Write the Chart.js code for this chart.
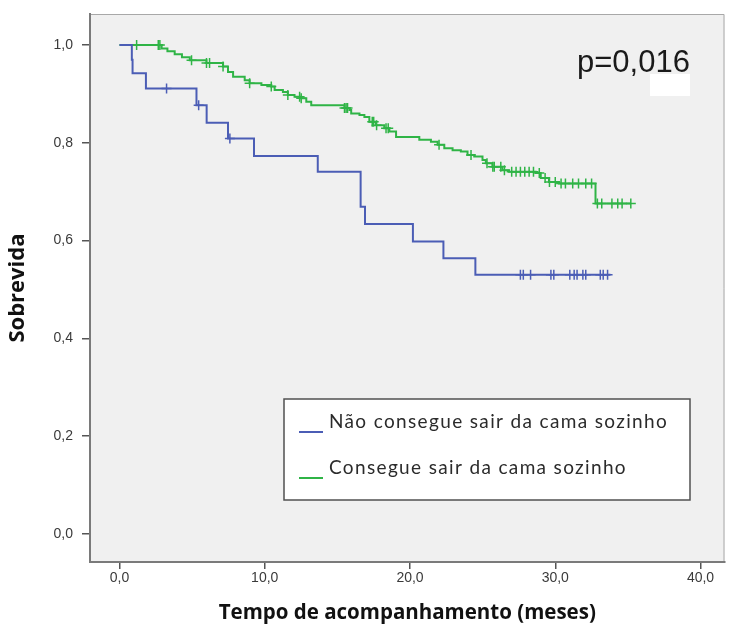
<!DOCTYPE html>
<html><head><meta charset="utf-8">
<script src="https://cdn.jsdelivr.net/npm/chart.js@4/dist/chart.umd.min.js"></script>
<style>html,body{margin:0;padding:0;background:#fff}#wrap{width:731px;height:630px;position:relative}</style>
</head><body><div id="wrap"><canvas id="c"></canvas></div>
<script>
const seriesNames = ['Não consegue sair da cama sozinho', 'Consegue sair da cama sozinho'];
const pValueText = 'p=0,016';
const xTitle = 'Tempo de acompanhamento (meses)';
const yTitle = 'Sobrevida';
const xTicks = [0, 10, 20, 30, 40];
const yTicks = [0, 0.2, 0.4, 0.6, 0.8, 1.0];

// Blue group: step times and survival after each step
const blueTimes = [0, 0.85, 0.9, 1.82, 5.3, 6.0, 7.47, 9.26, 13.65, 16.6, 16.9, 20.2, 22.3, 24.5, 33.8];
const blueSurv  = [1, 0.970, 0.942, 0.911, 0.877, 0.841, 0.809, 0.773, 0.741, 0.669, 0.634, 0.598, 0.564, 0.530, 0.530];
const blueCensorTimes = [3.24, 5.45, 7.6, 27.6, 27.8, 28.3, 29.7, 29.9, 31.0, 31.3, 31.5, 31.9, 32.1, 33.1, 33.3, 33.6];

// Green group
const greenTimes = [0, 2.9, 3.3, 3.8, 4.3, 4.84, 5.99, 7.13, 7.47, 7.82, 8.62, 8.96, 9.77, 10.45, 10.68, 11.25, 11.59, 12.05, 12.51, 12.86, 13.2,
  15.49, 15.83, 15.95, 16.52, 16.86, 17.2, 17.66, 18.23, 18.58, 19.04, 20.64, 21.44, 21.9, 22.36, 22.93, 23.5, 23.96, 24.42,
  24.99, 25.22, 25.67, 26.36, 26.82, 28.65, 29.0, 29.57, 30.25, 32.77, 35.2];
const greenSurv = [1, 0.993, 0.987, 0.981, 0.975, 0.969, 0.963, 0.956, 0.945, 0.935, 0.928, 0.922, 0.918, 0.915, 0.908, 0.904, 0.898, 0.894, 0.891, 0.884, 0.877,
  0.871, 0.867, 0.860, 0.857, 0.853, 0.843, 0.836, 0.830, 0.823, 0.812, 0.806, 0.802, 0.796, 0.789, 0.785, 0.782, 0.775, 0.772,
  0.765, 0.758, 0.751, 0.744, 0.741, 0.738, 0.728, 0.720, 0.717, 0.676, 0.676];
const greenCensorTimes = [1.18, 2.67, 2.78, 4.96, 5.99, 6.2, 7.13, 8.96, 10.45, 11.59, 12.4, 12.51, 15.49, 15.6, 15.7, 17.4, 17.5, 17.7,
  18.35, 18.5, 22.0, 24.2, 25.3, 25.7, 25.8, 26.25, 26.5, 27.0, 27.3, 27.6, 27.9, 28.2, 28.5, 28.9, 29.3, 29.6, 30.0, 30.4, 30.7,
  31.2, 31.6, 32.1, 32.5, 32.9, 33.2, 33.9, 34.3, 34.6, 35.2];

const BLUE = '#4b5db5';
const GREEN = '#2fb446';

function survAt(times, surv, t) {
  let s = surv[0];
  for (let i = 0; i < times.length; i++) { if (times[i] <= t) s = surv[i]; }
  return s;
}
const toPts = (xs, ys) => xs.map((x, i) => ({x, y: ys[i]}));
const censorPts = (ct, times, surv) => ct.map(t => ({x: t, y: survAt(times, surv, t)}));

const fmt = v => v.toFixed(1).replace('.', ',');

const framePlugin = {
  id: 'frame',
  beforeDraw(chart) {
    const {ctx, chartArea: a} = chart;
    ctx.save();
    ctx.fillStyle = '#f0f0f0';
    ctx.fillRect(a.left, a.top, a.right - a.left, a.bottom - a.top);
    ctx.strokeStyle = '#a8a8a8';
    ctx.lineWidth = 1;
    ctx.beginPath();
    ctx.moveTo(a.left, a.top + 0.5); ctx.lineTo(a.right - 0.5, a.top + 0.5); ctx.lineTo(a.right - 0.5, a.bottom);
    ctx.stroke();
    ctx.restore();
  },
  afterDraw(chart) {
    const {ctx} = chart;
    ctx.save();
    // p-value
    ctx.fillStyle = '#1a1a1a';
    ctx.font = '31px "Liberation Sans", Arial, sans-serif';
    ctx.textBaseline = 'alphabetic';
    ctx.textAlign = 'left';
    ctx.fillText(pValueText, 577, 72);
    ctx.fillStyle = '#ffffff';
    ctx.fillRect(650, 74, 40, 22);
    // legend box
    ctx.fillStyle = '#ffffff';
    ctx.fillRect(284, 399, 406, 101);
    ctx.strokeStyle = '#505050';
    ctx.lineWidth = 1.5;
    ctx.strokeRect(284, 399, 406, 101);
    const cols = [BLUE, GREEN];
    const ys = [431, 477];
    ctx.font = '19px Lato, "Open Sans", sans-serif';
    try { ctx.letterSpacing = '1.35px'; } catch (e) {}
    ctx.textBaseline = 'middle';
    for (let i = 0; i < 2; i++) {
      ctx.strokeStyle = cols[i];
      ctx.lineWidth = 2;
      ctx.beginPath(); ctx.moveTo(299, ys[i] + 1); ctx.lineTo(323, ys[i] + 1); ctx.stroke();
      ctx.fillStyle = '#2b2b2b';
      ctx.fillText(seriesNames[i], 329, ys[i] - 9);
    }
    ctx.restore();
  }
};

new Chart(document.getElementById('c'), {
  type: 'scatter',
  data: {
    datasets: [
      {label: seriesNames[0], data: toPts(blueTimes, blueSurv), showLine: true, stepped: 'before', borderColor: BLUE, borderWidth: 2, pointRadius: 0},
      {label: seriesNames[1], data: toPts(greenTimes, greenSurv), showLine: true, stepped: 'before', borderColor: GREEN, borderWidth: 2, pointRadius: 0},
      {label: 'c1', data: censorPts(blueCensorTimes, blueTimes, blueSurv), showLine: false, pointStyle: 'cross', pointRadius: 5, borderColor: BLUE, borderWidth: 1.5},
      {label: 'c2', data: censorPts(greenCensorTimes, greenTimes, greenSurv), showLine: false, pointStyle: 'cross', pointRadius: 5, borderColor: GREEN, borderWidth: 1.5}
    ]
  },
  options: {
    responsive: true,
    maintainAspectRatio: false,
    animation: false,
    layout: {padding: {left: 0, right: 5, top: 14, bottom: 0}},
    plugins: {legend: {display: false}, tooltip: {enabled: false}},
    scales: {
      x: {
        type: 'linear', min: -2.03, max: 41.65,
        afterBuildTicks: s => { s.ticks = xTicks.map(v => ({value: v})); },
        afterFit: s => { s.height = 68; s.paddingLeft = 0; s.paddingRight = 0; },
        grid: {display: true, drawOnChartArea: false, drawTicks: true, tickLength: 7, color: '#555', lineWidth: 1.5},
        border: {display: true, color: '#7a7a7a', width: 2},
        ticks: {callback: v => fmt(v), color: '#3a3a3a', font: {family: '"Liberation Sans", Arial, sans-serif', size: 14}, padding: 1, maxRotation: 0},
        title: {display: true, text: xTitle, color: '#111', font: {family: '"Open Sans", Lato, sans-serif', size: 20.5, weight: 'bold'}, padding: {top: 0, bottom: 5}}
      },
      y: {
        type: 'linear', min: -0.0573, max: 1.0634,
        afterBuildTicks: s => { s.ticks = yTicks.map(v => ({value: v})); },
        afterFit: s => { s.width = 90; s.paddingTop = 0; s.paddingBottom = 0; },
        grid: {display: true, drawOnChartArea: false, drawTicks: true, tickLength: 8, color: '#555', lineWidth: 1.5},
        border: {display: true, color: '#7a7a7a', width: 2},
        ticks: {callback: v => fmt(v), color: '#3a3a3a', font: {family: '"Liberation Sans", Arial, sans-serif', size: 14}, padding: 9},
        title: {display: true, text: yTitle, color: '#111', font: {family: '"Open Sans", Lato, sans-serif', size: 22, weight: 'bold'}, padding: {top: 5, bottom: 0}}
      }
    }
  },
  plugins: [framePlugin]
});
</script>
</body></html>
